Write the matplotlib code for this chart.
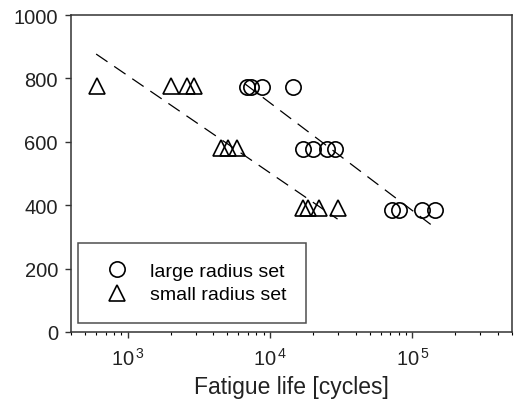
import matplotlib
matplotlib.use("Agg")
import matplotlib.pyplot as plt
from matplotlib.ticker import LogLocator, NullFormatter

plt.rcParams['font.family'] = ['Liberation Sans', 'DejaVu Sans']
plt.rcParams['mathtext.fontset'] = 'custom'
plt.rcParams['mathtext.rm'] = 'Liberation Sans'
plt.rcParams['mathtext.it'] = 'Liberation Sans'

# large radius set: cycles and stress level
large_life = [6840, 7340, 8720, 14400,
              17100, 19900, 25100, 28700,
              71600, 80800, 116000, 143000]
large_stress = [772, 772, 772, 772,
                577, 577, 577, 577,
                386, 386, 386, 386]

# small radius set
small_life = [610, 2000, 2610, 2900,
              4520, 5040, 5820,
              17100, 18500, 21900, 29800]
small_stress = [775, 775, 775, 775,
                580, 580, 580,
                390, 390, 390, 390]

# fitted trend lines (end points)
large_fit_x = [6700, 143000]
large_fit_y = [782, 330]
small_fit_x = [600, 29800]
small_fit_y = [877, 356]

fig = plt.figure(figsize=(5.15, 4.02), dpi=100)
ax = fig.add_axes([0.138, 0.172, 0.856, 0.788])

ax.plot(large_fit_x, large_fit_y, color='black', lw=0.9, dashes=(11, 6.5))
ax.plot(small_fit_x, small_fit_y, color='black', lw=0.9, dashes=(11, 6.5))

ax.plot(large_life, large_stress, linestyle='none', marker='o', ms=11,
        mfc='none', mec='black', mew=1.2, label='large radius set')
ax.plot(small_life, small_stress, linestyle='none', marker='^', ms=11.5,
        mfc='none', mec='black', mew=1.2, label='small radius set')

ax.set_xscale('log')
ax.set_xlim(400, 5e5)
ax.set_ylim(0, 1000)
ax.set_yticks([0, 200, 400, 600, 800, 1000])
ax.set_xticks([1e3, 1e4, 1e5])
ax.set_xticklabels(['10$^{\\,3}$', '10$^{\\,4}$', '10$^{\\,5}$'])
ax.xaxis.set_minor_locator(LogLocator(base=10, subs=range(2, 10)))
ax.xaxis.set_minor_formatter(NullFormatter())

ax.tick_params(axis='both', which='major', direction='out', length=4.5,
               width=1.0, labelsize=14.5, color='#333333', labelcolor='#222222')
ax.tick_params(axis='x', which='minor', direction='out', length=2.5, width=0.8)
ax.tick_params(axis='x', which='major', pad=6)
ax.tick_params(axis='y', which='major', pad=5)
for sp in ax.spines.values():
    sp.set_linewidth(1.1)
    sp.set_color('#333333')

ax.set_xlabel('Fatigue life [cycles]', fontsize=16.5, color='#222222', labelpad=5)

leg = ax.legend(loc='lower left', bbox_to_anchor=(7 / 441, 9 / 317), frameon=True,
                fancybox=False, edgecolor='#222222', fontsize=14,
                borderpad=1.0, handlelength=2.0, handletextpad=0.7,
                labelspacing=0.3, borderaxespad=0)
leg.get_frame().set_linewidth(1.1)

fig.savefig('out.png', dpi=100)
